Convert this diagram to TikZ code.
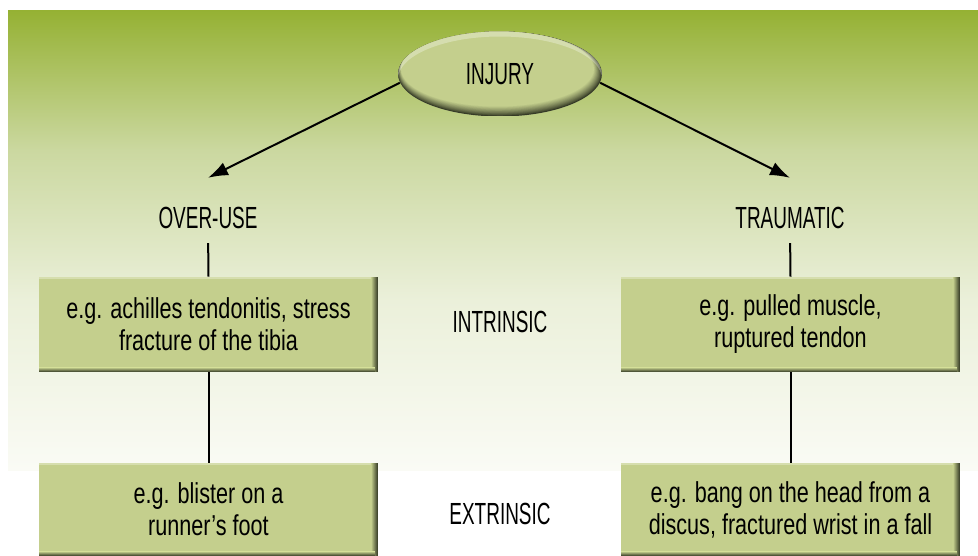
\documentclass[tikz,border=0pt]{standalone}
\usepackage{fontspec}
\setmainfont{Liberation Sans}[FakeStretch=0.75]
\newfontfamily\capsfont{Liberation Sans}[FakeStretch=0.62]
\usetikzlibrary{arrows.meta,shapes.geometric}

\definecolor{bgtop}{HTML}{95B133}
\definecolor{bgmid}{HTML}{CBD8A0}
\definecolor{bglow}{HTML}{EBF0DA}
\definecolor{bgend}{HTML}{FAFBF5}
\definecolor{boxfill}{HTML}{C4CF8D}
\definecolor{boxedge}{HTML}{D6DEAE}
\definecolor{boxrim}{HTML}{2E3320}

\tikzset{
  lbl/.style={font=\capsfont\fontsize{17.4}{19}\selectfont, inner sep=0pt},
  % raised button: dark rim below and right, light band along the top
  button/.style={ellipse, minimum width=4.08cm, minimum height=1.7cm, inner sep=0pt,
    font=\capsfont\fontsize{17.4}{19}\selectfont,
    path picture={
      \fill[boxrim] (path picture bounding box.south west) rectangle
        (path picture bounding box.north east);
      \foreach \i in {1,...,14}{
        \pgfmathsetmacro\mix{100*(\i/14)^0.8}
        \fill[boxfill!\mix!boxrim]
          ([xshift=-0.05cm*\i/14, yshift=0.1cm*\i/14]path picture bounding box.center)
          ellipse [x radius=2.04cm-0.11cm*\i/14, y radius=0.85cm-0.1cm*\i/14];
      }
      \fill[white, opacity=0.3, even odd rule]
        (path picture bounding box.center) ellipse [x radius=2.04cm, y radius=0.85cm]
        ([yshift=-0.1cm]path picture bounding box.center) ellipse [x radius=2.04cm, y radius=0.85cm];
    }},
  example/.style={fill=boxfill, minimum width=6.78cm, minimum height=1.9cm,
    inner sep=0pt, align=center, font=\fontsize{16.4}{18.2}\selectfont,
    path picture={
      \fill[boxedge] (path picture bounding box.north west) rectangle
        ([yshift=-0.04cm]path picture bounding box.north east);
      \shade[left color=boxfill, right color=boxrim]
        ([xshift=-0.14cm]path picture bounding box.north east) rectangle
        (path picture bounding box.south east);
      \shade[top color=boxfill, bottom color=boxrim]
        ([yshift=0.09cm]path picture bounding box.south west) rectangle
        ([xshift=-0.06cm]path picture bounding box.south east);
    }},
  arrow/.style={-{Latex[length=0.4cm,width=0.28cm]}, line width=0.04cm},
  stem/.style={line width=0.04cm}
}

\begin{document}
\begin{tikzpicture}[x=0.02cm,y=-0.02cm]
\useasboundingbox (0,0) rectangle (978,555);

% background, green fading to white
\shade[top color=bgtop, bottom color=bgmid] (8,10) rectangle (978,150.5);
\shade[top color=bgmid, bottom color=bglow] (8,150) rectangle (978,300.5);
\shade[top color=bglow, bottom color=bgend] (8,300) rectangle (978,470);

\node[button] (injury) at (500,74) {INJURY};

\node[lbl] (overuse) at (208,218) {OVER-USE};
\node[lbl] (traumatic) at (790,218) {TRAUMATIC};
\node[lbl] (intrinsic) at (500,322) {INTRINSIC};
\node[lbl] (extrinsic) at (500,514) {EXTRINSIC};

\node[example] (achilles) at (208.5,324.5) {e.g. achilles tendonitis, stress\\fracture of the tibia};
\node[example] (pulled) at (790.5,324.5) {e.g. pulled muscle,\\ruptured tendon};
\node[example, minimum height=1.86cm] (blister) at (208.5,509.5) {e.g. blister on a\\runner’s foot};
\node[example, minimum height=1.86cm] (bang) at (790.5,509.5) {e.g. bang on the head from a\\discus, fractured wrist in a fall};

\draw[arrow] (injury.185) -- ([yshift=0.58cm]overuse.north);
\draw[arrow] (injury.-5) -- ([yshift=0.58cm]traumatic.north);

\draw[stem, shorten <=0.28cm] (overuse.south) -- (achilles.north);
\draw[stem, shorten <=0.28cm] (traumatic.south) -- (pulled.north);
\draw[stem] (achilles.south) -- (blister.north);
\draw[stem] (pulled.south) -- (bang.north);
\end{tikzpicture}
\end{document}
